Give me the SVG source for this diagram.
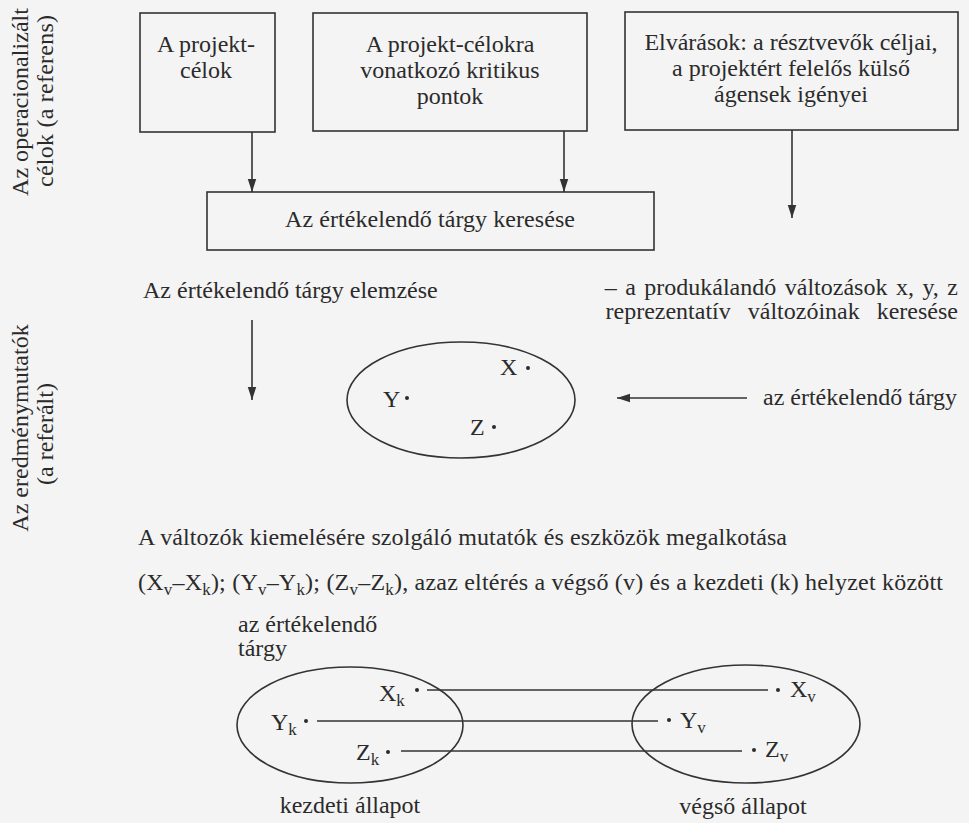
<svg xmlns="http://www.w3.org/2000/svg" width="969" height="823" viewBox="0 0 969 823">
<style>
text{font-family:"Liberation Serif","Times New Roman",serif;font-size:24px;fill:#2b2b2b}
.box{fill:none;stroke:#333;stroke-width:1.6}
.ell{fill:none;stroke:#333;stroke-width:1.6}
.ln{fill:none;stroke:#333;stroke-width:1.6}
.arr{fill:none;stroke:#333;stroke-width:1.6;marker-end:url(#ah)}
.dot{fill:#2b2b2b}
.sub{font-size:17px}
.m{text-anchor:middle}
</style>
<defs>
<marker id="ah" markerUnits="userSpaceOnUse" markerWidth="13" markerHeight="22" refX="20" refY="6.5" viewBox="0 0 20 13" orient="auto">
<path d="M0,0 L20,6.5 L0,13 Z" fill="#333"/>
</marker>
</defs>
<rect width="969" height="823" fill="#f4f4f4"/>

<g id="side-labels">
<text class="m" transform="translate(28,102) rotate(-90)" textLength="188" lengthAdjust="spacing">Az operacionalizált</text>
<text class="m" transform="translate(53,101) rotate(-90)" textLength="172" lengthAdjust="spacing">célok (a referens)</text>
<text class="m" transform="translate(28,428) rotate(-90)">Az eredménymutatók</text>
<text class="m" transform="translate(53,434) rotate(-90)">(a referált)</text>
</g>

<g id="n-projektcelok">
<rect class="box" x="140" y="13" width="135" height="119"/>
<text class="m" x="206" y="52">A projekt-</text>
<text class="m" x="206" y="78">célok</text>
</g>

<g id="n-kritikus">
<rect class="box" x="313" y="13" width="274" height="118"/>
<text class="m" x="450" y="52">A projekt-célokra</text>
<text class="m" x="450" y="78">vonatkozó kritikus</text>
<text class="m" x="450" y="104">pontok</text>
</g>

<g id="n-elvarasok">
<rect class="box" x="625" y="12" width="333" height="118"/>
<text class="m" x="791" y="50">Elvárások: a résztvevők céljai,</text>
<text class="m" x="791" y="76">a projektért felelős külső</text>
<text class="m" x="791" y="102">ágensek igényei</text>
</g>

<g id="n-kereses">
<rect class="box" x="207" y="192" width="447" height="58"/>
<text x="285" y="227" textLength="290" lengthAdjust="spacing">Az értékelendő tárgy keresése</text>
</g>

<g id="n-elemzes">
<text x="143" y="298">Az értékelendő tárgy elemzése</text>
</g>

<g id="n-produkalando">
<text x="958" y="295" text-anchor="end" word-spacing="2.5">– a produkálandó változások x, y, z</text>
<text x="958" y="319" text-anchor="end" word-spacing="11">reprezentatív változóinak keresése</text>
</g>

<g id="n-targy-xyz">
<ellipse class="ell" cx="461" cy="400" rx="114" ry="58"/>
<text x="500" y="375">X</text>
<circle class="dot" cx="528" cy="368" r="2"/>
<text x="383" y="407">Y</text>
<circle class="dot" cx="407" cy="398" r="2"/>
<text x="470" y="435">Z</text>
<circle class="dot" cx="494" cy="427" r="2"/>
</g>

<g id="n-targy-label">
<text x="763" y="405">az értékelendő tárgy</text>
</g>

<g id="n-mutatok">
<text x="138" y="545" textLength="649" lengthAdjust="spacing">A változók kiemelésére szolgáló mutatók és eszközök megalkotása</text>
</g>

<g id="n-elteres">
<text x="138" y="590" textLength="805" lengthAdjust="spacing">(X<tspan class="sub" dy="5">v</tspan><tspan dy="-5">–X</tspan><tspan class="sub" dy="5">k</tspan><tspan dy="-5">); (Y</tspan><tspan class="sub" dy="5">v</tspan><tspan dy="-5">–Y</tspan><tspan class="sub" dy="5">k</tspan><tspan dy="-5">); (Z</tspan><tspan class="sub" dy="5">v</tspan><tspan dy="-5">–Z</tspan><tspan class="sub" dy="5">k</tspan><tspan dy="-5">), azaz eltérés a végső (v) és a kezdeti (k) helyzet között</tspan></text>
</g>

<g id="n-kezdeti">
<text x="238" y="632">az értékelendő</text>
<text x="238" y="656">tárgy</text>
<ellipse class="ell" cx="350" cy="725" rx="113" ry="58"/>
<text x="379" y="701">X<tspan class="sub" dy="5">k</tspan></text>
<circle class="dot" cx="417" cy="690" r="2"/>
<text x="271" y="730">Y<tspan class="sub" dy="5">k</tspan></text>
<circle class="dot" cx="306" cy="721" r="2"/>
<text x="356" y="760">Z<tspan class="sub" dy="5">k</tspan></text>
<circle class="dot" cx="388" cy="752" r="2"/>
<text class="m" x="350" y="813">kezdeti állapot</text>
</g>

<g id="n-vegso">
<ellipse class="ell" cx="746" cy="724" rx="114" ry="59"/>
<circle class="dot" cx="778" cy="690" r="2"/>
<text x="790" y="697">X<tspan class="sub" dy="5">v</tspan></text>
<circle class="dot" cx="669" cy="720" r="2"/>
<text x="680" y="728">Y<tspan class="sub" dy="5">v</tspan></text>
<circle class="dot" cx="754" cy="750" r="2"/>
<text x="765" y="757">Z<tspan class="sub" dy="5">v</tspan></text>
<text class="m" x="743" y="814">végső állapot</text>
</g>

<g id="connectors">
<line class="arr" x1="252" y1="132" x2="252" y2="192"/>
<line class="arr" x1="564" y1="131" x2="564" y2="192"/>
<line class="arr" x1="792" y1="130" x2="792" y2="218"/>
<line class="arr" x1="252" y1="320" x2="252" y2="400"/>
<line class="arr" x1="747" y1="398" x2="617" y2="398"/>
<line class="ln" x1="427" y1="690" x2="768" y2="690"/>
<line class="ln" x1="317" y1="721" x2="658" y2="721"/>
<line class="ln" x1="401" y1="751" x2="742" y2="751"/>
</g>
</svg>
